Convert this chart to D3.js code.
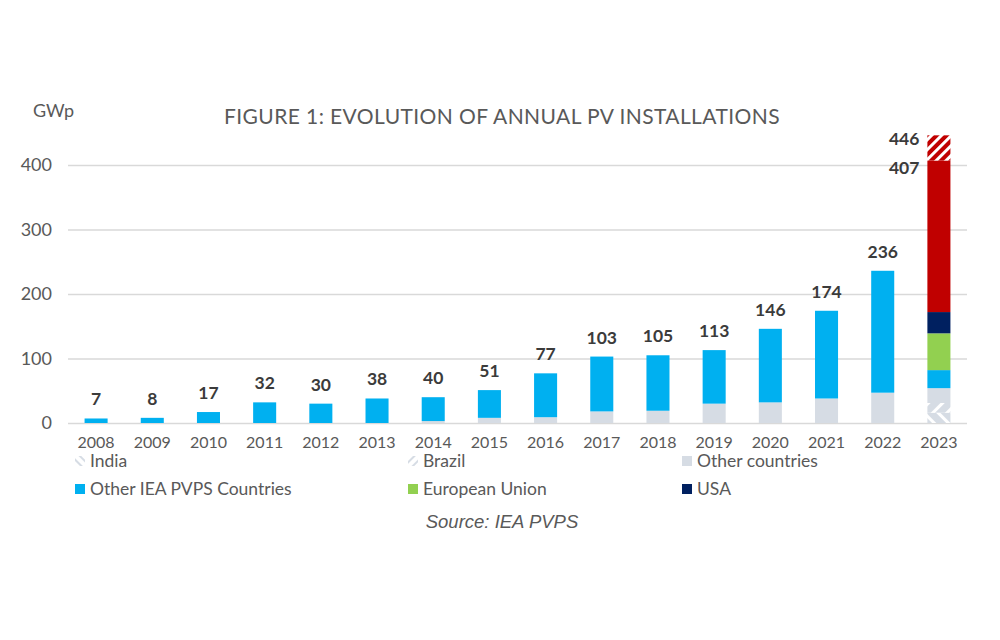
<!DOCTYPE html>
<html>
<head>
<meta charset="utf-8">
<script src="https://cdn.jsdelivr.net/npm/d3@7"></script>
<style>
  body { margin: 0; background: #fff; }
  svg { display: block; font-family: Lato, "Open Sans", sans-serif; }
</style>
</head>
<body>
<div id="chart"></div>
<script>
// Data
const years = ['2008','2009','2010','2011','2012','2013','2014','2015','2016','2017','2018','2019','2020','2021','2022','2023'];
const india          = [0,0,0,0,0,0,0,0,0,0,0,0,0,0,0,16];
const brazil         = [0,0,0,0,0,0,0,0,0,0,0,0,0,0,0,15];
const otherCountries = [0,0,0,0,0,0,3,8,9,18,19,30,32,38,47,23];
const otherIEA       = [7,8,17,32,30,38,37,43,68,85,86,83,114,136,189,28];
const eu             = [0,0,0,0,0,0,0,0,0,0,0,0,0,0,0,57];
const usa            = [0,0,0,0,0,0,0,0,0,0,0,0,0,0,0,33];
const china          = [0,0,0,0,0,0,0,0,0,0,0,0,0,0,0,235];
const chinaRange     = [0,0,0,0,0,0,0,0,0,0,0,0,0,0,0,39];
const yTicks = [0, 100, 200, 300, 400];

const series = [
  { key: 'india', name: 'India', values: india, fill: 'url(#pat-india)' },
  { key: 'brazil', name: 'Brazil', values: brazil, fill: 'url(#pat-brazil)' },
  { key: 'other', name: 'Other countries', values: otherCountries, fill: '#D6DCE4' },
  { key: 'otherIEA', name: 'Other IEA PVPS Countries', values: otherIEA, fill: '#00B0F0' },
  { key: 'eu', name: 'European Union', values: eu, fill: '#92D050' },
  { key: 'usa', name: 'USA', values: usa, fill: '#002060' },
  { key: 'china', name: null, values: china, fill: '#C00000' },
  { key: 'chinaRange', name: null, values: chinaRange, fill: 'url(#pat-china)' },
];

const W = 1000, H = 640;
const svg = d3.select('#chart').append('svg').attr('width', W).attr('height', H);
svg.append('rect').attr('width', W).attr('height', H).attr('fill', '#fff');

// Patterns
const defs = svg.append('defs');
function stripes(id, bg, fg, angle, size, stripe) {
  const p = defs.append('pattern').attr('id', id)
    .attr('patternUnits', 'userSpaceOnUse')
    .attr('width', size).attr('height', size)
    .attr('patternTransform', `rotate(${angle})`);
  p.append('rect').attr('width', size).attr('height', size).attr('fill', bg);
  p.append('rect').attr('width', stripe).attr('height', size).attr('fill', fg);
}
stripes('pat-china', '#fff', '#C00000', 45, 7, 4);
stripes('pat-india', '#D6DCE4', '#fff', -45, 10, 3);
stripes('pat-brazil', '#D6DCE4', '#fff', 45, 10, 3);
// lighter versions for the legend icons
stripes('pat-india-leg', '#fff', '#D6DCE4', -45, 6, 2);
stripes('pat-brazil-leg', '#fff', '#D6DCE4', 45, 6, 2);

// Scales
const x = d3.scaleBand().domain(years).range([68, 967]).paddingInner(0.59).paddingOuter(0.295);
const y = d3.scaleLinear().domain([0, 400]).range([423, 165]);

// Grid
svg.append('g').selectAll('line').data(yTicks).join('line')
  .attr('x1', 68).attr('x2', 967)
  .attr('y1', d => y(d) + 0.5).attr('y2', d => y(d) + 0.5)
  .attr('stroke', '#D9D9D9').attr('stroke-width', 1.3);

// Y axis labels
const yAxis = svg.append('g').attr('transform', 'translate(52,0)')
  .call(d3.axisLeft(y).tickValues(yTicks).tickSize(0).tickPadding(0));
yAxis.select('.domain').remove();
yAxis.selectAll('text').attr('font-family', 'Lato').attr('font-size', 18).attr('fill', '#595959');

// X axis labels
const xAxis = svg.append('g').attr('transform', 'translate(0,432)')
  .call(d3.axisBottom(x).tickSize(0).tickPadding(5));
xAxis.select('.domain').remove();
xAxis.selectAll('text').attr('font-family', 'Lato').attr('font-size', 16).attr('fill', '#595959');

// Stacked bars
const rows = years.map((yr, i) => {
  const r = { year: yr };
  series.forEach(s => { r[s.key] = s.values[i]; });
  return r;
});
const stacked = d3.stack().keys(series.map(s => s.key))(rows);

svg.append('g').selectAll('g').data(stacked).join('g')
  .attr('fill', (d, i) => series[i].fill)
  .selectAll('rect').data(d => d).join('rect')
  .attr('x', d => x(d.data.year))
  .attr('width', x.bandwidth())
  .attr('y', d => y(d[1]))
  .attr('height', d => y(d[0]) - y(d[1]));

// Value labels
const totals = rows.map(r => d3.sum(series, s => r[s.key]));
const labels = svg.append('g').attr('font-family', 'Lato').attr('font-weight', 'bold')
  .attr('font-size', 17.5).attr('fill', '#3b3b3b');
labels.selectAll('text').data(years.slice(0, -1)).join('text')
  .attr('x', d => x(d) + x.bandwidth() / 2)
  .attr('y', (d, i) => y(totals[i]) - 13)
  .attr('text-anchor', 'middle')
  .text((d, i) => totals[i]);

const last = years.length - 1;
const lastLabels = [totals[last], totals[last] - chinaRange[last]];
labels.append('g').selectAll('text').data(lastLabels).join('text')
  .attr('x', x(years[last]) - 8)
  .attr('y', (d, i) => y(d) + (i === 0 ? 10 : 14))
  .attr('text-anchor', 'end')
  .text(d => d);

// Title & unit
svg.append('text').attr('x', 502).attr('y', 124).attr('text-anchor', 'middle')
  .attr('font-size', 21).attr('letter-spacing', 0.4).attr('fill', '#595959')
  .text('FIGURE 1: EVOLUTION OF ANNUAL PV INSTALLATIONS');
svg.append('text').attr('x', 33).attr('y', 117)
  .attr('font-size', 18).attr('fill', '#595959').text('GWp');

// Legend
const legendItems = series.filter(s => s.name);
const legendCols = [75, 408, 682];
const legendRows = [461, 489];
const leg = svg.append('g').selectAll('g').data(legendItems).join('g')
  .attr('transform', (d, i) => `translate(${legendCols[i % 3]},${legendRows[Math.floor(i / 3)]})`);
leg.append('rect').attr('x', 0).attr('y', -5).attr('width', 10).attr('height', 10)
  .attr('fill', d => d.key === 'india' ? 'url(#pat-india-leg)'
    : d.key === 'brazil' ? 'url(#pat-brazil-leg)' : d.fill);
leg.append('text').attr('x', 15).attr('y', 6)
  .attr('font-size', 17.5).attr('fill', '#595959').text(d => d.name);

// Source
svg.append('text').attr('x', 502).attr('y', 528).attr('text-anchor', 'middle')
  .attr('font-family', '"Liberation Sans", Arial, sans-serif').attr('font-style', 'italic')
  .attr('font-size', 18.5).attr('fill', '#595959').text('Source: IEA PVPS');
</script>
</body>
</html>
